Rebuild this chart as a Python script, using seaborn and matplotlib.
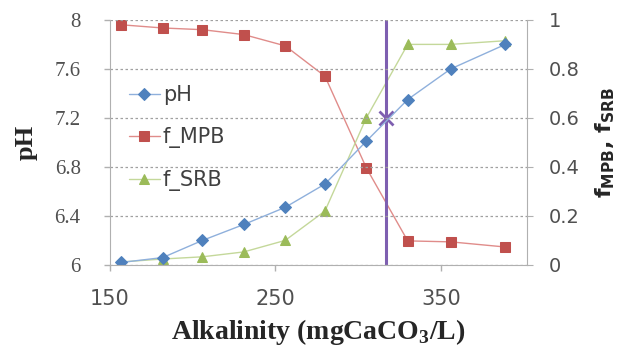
import matplotlib
matplotlib.use("Agg")
import matplotlib.pyplot as plt
import pandas as pd
import seaborn as sns

# values
alkalinity = [157, 182, 206, 231, 256, 280, 305, 330, 356, 389]
ph = [6.02, 6.06, 6.20, 6.33, 6.47, 6.66, 7.01, 7.35, 7.60, 7.80]
f_mpb = [0.98, 0.967, 0.96, 0.94, 0.894, 0.77, 0.396, 0.098, 0.094, 0.073]
f_srb = [0.012, 0.024, 0.033, 0.053, 0.10, 0.22, 0.60, 0.90, 0.90, 0.915]
cross_x = 317
cross_f = 0.6

df = pd.DataFrame({"alk": alkalinity, "pH": ph, "f_MPB": f_mpb, "f_SRB": f_srb})

sns.set_style("white")
fig = plt.figure(figsize=(6.31, 3.49), dpi=100)
ax = fig.add_axes([0.174, 0.241, 0.661, 0.702])
ax2 = ax.twinx()

ax.set_xlim(150, 402)
ax.set_ylim(6, 8)
ax2.set_ylim(0, 1)
ax.set_yticks([6, 6.4, 6.8, 7.2, 7.6, 8])
ax.set_yticklabels(["6", "6.4", "6.8", "7.2", "7.6", "8"])
ax.set_xticks([150, 250, 350])
ax2.set_yticks([0, 0.2, 0.4, 0.6, 0.8, 1])
ax2.set_yticklabels(["0", "0.2", "0.4", "0.6", "0.8", "1"])

for a in (ax, ax2):
    for s in a.spines.values():
        s.set_visible(False)
ax.spines["left"].set_visible(True)
ax.spines["bottom"].set_visible(True)
ax2.spines["right"].set_visible(True)
for s in ("left", "bottom"):
    ax.spines[s].set_color("#b0b0b0")
ax2.spines["right"].set_color("#b0b0b0")

ax.grid(axis="y", linestyle=(0, (2, 2)), color="#a0a0a0", linewidth=0.9)
ax.tick_params(axis="both", direction="out", length=4, color="#b0b0b0", width=1,
               left=True, bottom=True)
ax.tick_params(axis="y", labelsize=15, labelcolor="#505050", pad=17)
for lab in ax.get_yticklabels():
    lab.set_family("Liberation Serif")
ax.tick_params(axis="x", labelsize=15, labelcolor="#505050", pad=13)
ax2.tick_params(axis="y", direction="out", length=4, color="#b0b0b0", right=True,
                labelsize=14, labelcolor="#505050", pad=12)

sns.lineplot(data=df, x="alk", y="f_MPB", ax=ax2, color="#e08c8a", linewidth=1,
             marker="s", markersize=7, markerfacecolor="#c0504d",
             markeredgecolor="#c0504d", label="f_MPB", legend=False)
sns.lineplot(data=df, x="alk", y="f_SRB", ax=ax2, color="#c4d89a", linewidth=1,
             marker="^", markersize=7, markerfacecolor="#9bbb59",
             markeredgecolor="#9bbb59", label="f_SRB", legend=False)
sns.lineplot(data=df, x="alk", y="pH", ax=ax, color="#8fb0dc", linewidth=1,
             marker="D", markersize=6, markerfacecolor="#4f81bd",
             markeredgecolor="#4f81bd", label="pH", legend=False)
ax.set_zorder(ax2.get_zorder() + 1)
ax.patch.set_visible(False)

ax2.axvline(cross_x, color="#7e5fb0", linewidth=2.2)
ax2.plot([cross_x], [cross_f], marker="x", markersize=10, markeredgewidth=2,
         color="#7e5fb0")

h1, l1 = ax.get_legend_handles_labels()
h2, l2 = ax2.get_legend_handles_labels()
leg = ax.legend(h1 + h2, l1 + l2, loc="upper left", bbox_to_anchor=(0.0, 0.81),
                frameon=False, fontsize=15, handlelength=1.5, handletextpad=0.15,
                labelspacing=1.05, labelcolor="#404040")

ax.set_xlabel("Alkalinity (mgCaCO$_\\mathregular{3}$/L)", family="Liberation Serif",
              fontsize=20, fontweight="bold", labelpad=6)
ax.set_ylabel("pH", family="Liberation Serif", fontsize=19, fontweight="bold",
              labelpad=12)
ax2.set_ylabel("f$_{\\mathregular{MPB}}$, f$_{\\mathregular{SRB}}$", fontsize=16,
               fontweight="bold", labelpad=10)

fig.savefig("out.png", dpi=100)
